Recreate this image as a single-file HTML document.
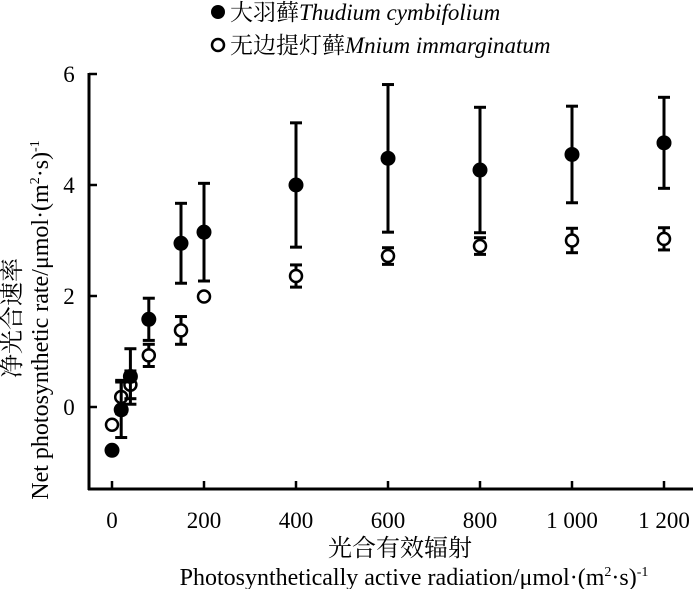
<!DOCTYPE html>
<html><head><meta charset="utf-8"><style>
body{margin:0;background:#fff;}
svg text{font-family:"Liberation Serif","Noto Serif CJK SC",serif;fill:#000;}
</style></head><body>
<svg width="693" height="589" xmlns="http://www.w3.org/2000/svg">
<g id="axes"></g><g id="marks"></g>
<g>
<circle cx="218" cy="12" r="7" fill="#000"/>
<text x="230" y="20" font-size="23">大羽藓<tspan font-style="italic">Thudium cymbifolium</tspan></text>
<circle cx="218" cy="45" r="6" fill="#fff" stroke="#000" stroke-width="2.5"/>
<text x="230" y="53" font-size="23">无边提灯藓<tspan font-style="italic">Mnium immarginatum</tspan></text>
</g>
<text x="400" y="556" font-size="24" text-anchor="middle">光合有效辐射</text>
<text x="414" y="585" font-size="24" text-anchor="middle">Photosynthetically active radiation/μmol·(m<tspan font-size="14" dy="-9">2</tspan><tspan dy="9">·s)</tspan><tspan font-size="14" dy="-9">-1</tspan></text>
<text transform="translate(20,318) rotate(-90)" font-size="24" text-anchor="middle">净光合速率</text>
<text transform="translate(48,320) rotate(-90)" font-size="24" text-anchor="middle">Net photosynthetic rate/μmol·(m<tspan font-size="14" dy="-9">2</tspan><tspan dy="9">·s)</tspan><tspan font-size="14" dy="-9">-1</tspan></text>
</svg>
<script>
const xValues=[0,20,40,80,150,200,400,600,800,1000,1200];
const thudiumMean=[-0.78,-0.05,0.55,1.58,2.95,3.15,4.0,4.48,4.27,4.55,4.76];
const thudiumErr=[0,0.5,0.5,0.38,0.72,0.88,1.12,1.33,1.13,0.87,0.82];
const mniumMean=[-0.32,0.18,0.4,0.93,1.38,1.99,2.36,2.72,2.9,3.0,3.03];
const mniumErr=[0,0.3,0.25,0.2,0.25,0.05,0.2,0.15,0.15,0.22,0.2];
const xTicks=[0,200,400,600,800,1000,1200];
const xTickLabels=["0","200","400","600","800","1 000","1 200"];
const yTicks=[0,2,4,6];
const yTickLabels=["0","2","4","6"];
const NS="http://www.w3.org/2000/svg";
const X=v=>112+v*0.46, Y=v=>407-v*55.5;
function mk(t,a,p){const e=document.createElementNS(NS,t);for(const k in a)e.setAttribute(k,a[k]);p.appendChild(e);return e;}
const ax=document.getElementById('axes'), mg=document.getElementById('marks');
let l=mk('line',{x1:89,y1:73,x2:89,y2:490,stroke:'#000','stroke-width':3},ax);


l=mk('line',{x1:88,y1:489,x2:693,y2:489,stroke:'#000','stroke-width':3},ax);


xTicks.forEach((v,i)=>{
 mk('line',{x1:X(v),y1:489,x2:X(v),y2:481,stroke:'#000','stroke-width':2.5},ax);
 const t=mk('text',{x:X(v),y:528,'font-size':23,'text-anchor':'middle'},ax);t.textContent=xTickLabels[i];
 
 
});
yTicks.forEach((v,i)=>{
 mk('line',{x1:89,y1:Y(v),x2:97,y2:Y(v),stroke:'#000','stroke-width':2.5},ax);
 const t=mk('text',{x:69,y:Y(v)+8,'font-size':23,'text-anchor':'middle'},ax);t.textContent=yTickLabels[i];
 
 
});
function series(mean,err,filled,name){
 xValues.forEach((xv,i)=>{
  const g=mk('g',{},mg);
  
  
  const cx=X(xv),cy=Y(mean[i]);
  if(err[i]>0){
   const y1=Y(mean[i]+err[i]),y2=Y(mean[i]-err[i]);
   mk('line',{x1:cx,y1:y1,x2:cx,y2:y2,stroke:'#000','stroke-width':3},g);
   mk('line',{x1:cx-6,y1:y1,x2:cx+6,y2:y1,stroke:'#000','stroke-width':3},g);
   mk('line',{x1:cx-6,y1:y2,x2:cx+6,y2:y2,stroke:'#000','stroke-width':3},g);
  }
  if(filled) mk('circle',{cx:cx,cy:cy,r:7.5,fill:'#000'},g);
  else mk('circle',{cx:cx,cy:cy,r:6,fill:'#fff',stroke:'#000','stroke-width':2.5},g);
 });
}
series(mniumMean,mniumErr,false,'mnium');
series(thudiumMean,thudiumErr,true,'thudium');
</script>
</body></html>
